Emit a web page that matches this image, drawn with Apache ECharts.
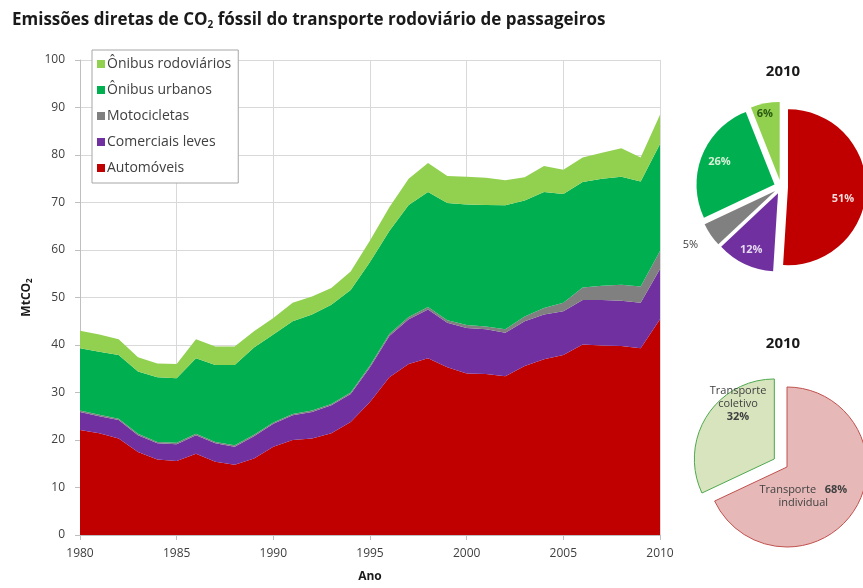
<!DOCTYPE html>
<html>
<head>
<meta charset="utf-8">
<script src="https://cdn.jsdelivr.net/npm/echarts@6/dist/echarts.min.js"></script>
<style>html,body{margin:0;padding:0;background:#fff}#c{width:863px;height:588px}</style>
</head>
<body>
<div id="c"></div>
<script>
var years = [];
for (var y = 1980; y <= 2010; y++) years.push(String(y));

var automoveis  = [22.1,21.4,20.3,17.5,15.9,15.6,17.1,15.4,14.8,16.1,18.6,20.0,20.3,21.4,23.8,28.0,33.2,36.0,37.2,35.3,34.0,33.9,33.4,35.6,37.0,37.9,40.1,39.9,39.8,39.3,45.4];
var comerciais  = [3.8,3.6,3.9,3.5,3.4,3.5,3.9,3.9,3.8,4.7,4.8,5.2,5.6,5.9,5.9,7.3,8.7,9.4,10.3,9.4,9.6,9.4,9.2,9.4,9.4,9.2,9.4,9.6,9.5,9.6,10.6];
var motocicletas= [0.3,0.3,0.3,0.3,0.3,0.3,0.3,0.3,0.3,0.3,0.3,0.3,0.3,0.3,0.3,0.4,0.4,0.5,0.5,0.5,0.6,0.6,0.7,1.0,1.4,1.8,2.6,3.0,3.4,3.4,3.8];
var onibusUrb   = [13.1,13.3,13.4,13.1,13.6,13.6,15.9,16.2,16.9,18.4,18.5,19.5,20.2,20.9,21.6,21.8,21.7,23.6,24.2,24.7,25.4,25.6,26.1,24.4,24.4,22.9,22.2,22.5,22.7,22.1,22.5];
var onibusRod   = [3.7,3.6,3.3,3.0,2.9,3.0,4.0,3.9,3.9,3.4,3.5,3.9,3.8,3.5,3.9,4.5,5.0,5.5,6.1,5.7,5.8,5.7,5.3,4.9,5.5,5.1,5.2,5.5,6.0,5.1,6.2];

var seriesNames = ['Automóveis','Comerciais leves','Motocicletas','Ônibus urbanos','Ônibus rodoviários'];
var seriesColors = ['#c00000','#7030a0','#808080','#00b050','#92d050'];
var seriesData = [automoveis, comerciais, motocicletas, onibusUrb, onibusRod];

var pie1Names = ['Automóveis','Comerciais leves','Motocicletas','Ônibus urbanos','Ônibus rodoviários'];
var pie1Values = [51, 12, 5, 26, 6];
var pie2Names = ['Transporte individual','Transporte coletivo'];
var pie2Values = [68, 32];

var FONT = 'Open Sans';

var areaSeries = seriesData.map(function (d, i) {
  return {
    name: seriesNames[i], type: 'line', stack: 'total', data: d,
    showSymbol: false, symbol: 'none',
    lineStyle: { width: 0 },
    areaStyle: { color: seriesColors[i], opacity: 1 },
    itemStyle: { color: seriesColors[i] },
    emphasis: { disabled: true }, z: 2
  };
});

var pie1LabelShift = [[13,10],[-9,19],[-50,30],[-16,-7],[-7,-25]];
var pie1LabelColors = ['#f2dcdb','#e6d9f0','#404040','#d8f0d8','#2a5a10'];
var pie1Data = pie1Values.map(function (v, i) {
  return {
    name: pie1Names[i], value: v, selected: true,
    itemStyle: { color: seriesColors[i] },
    label: { color: pie1LabelColors[i], fontWeight: i === 2 ? 'normal' : 'bold' }
  };
});

var pie2Data = [
  { name: pie2Names[0], value: pie2Values[0], selected: false,
    itemStyle: { color: '#e6b9b8', borderColor: '#c0504d', borderWidth: 1 } },
  { name: pie2Names[1], value: pie2Values[1], selected: true,
    itemStyle: { color: '#d7e4bd', borderColor: '#4ea84e', borderWidth: 1 } }
];
var pie2LabelShift = [[-20,6],[0,-32]];

var chart = echarts.init(document.getElementById('c'), null, { renderer: 'canvas' });
chart.setOption({
  animation: false,
  textStyle: { fontFamily: FONT },
  title: [
    { text: 'Emissões diretas de CO{s|2} fóssil do transporte rodoviário de passageiros',
      left: 7, top: 6,
      textStyle: { fontFamily: FONT, fontSize: 17, fontWeight: 'bold', color: '#1a1a1a',
        rich: { s: { fontFamily: FONT, fontSize: 10, fontWeight: 'bold', color: '#1a1a1a', verticalAlign: 'bottom', padding: [9,0,0,0] } } } },
    { text: '2010', left: 778, top: 59, textAlign: 'center',
      textStyle: { fontFamily: FONT, fontSize: 15, fontWeight: 'bold', color: '#1a1a1a' } },
    { text: '2010', left: 778, top: 331, textAlign: 'center',
      textStyle: { fontFamily: FONT, fontSize: 15, fontWeight: 'bold', color: '#1a1a1a' } }
  ],
  legend: {
    data: ['Ônibus rodoviários','Ônibus urbanos','Motocicletas','Comerciais leves','Automóveis'],
    orient: 'vertical', left: 92, top: 50,
    backgroundColor: '#fff', borderColor: '#a6a6a6', borderWidth: 1,
    padding: [7, 7, 8, 5], itemGap: 12, itemWidth: 8, itemHeight: 8, icon: 'rect',
    textStyle: { fontFamily: FONT, fontSize: 14, color: '#404040', padding: [0,0,0,-3] },
    selectedMode: false, z: 10
  },
  grid: { left: 80, right: 203, top: 60, bottom: 49, containLabel: false, show: false },
  xAxis: {
    type: 'category', data: years, boundaryGap: false,
    name: 'Ano', nameLocation: 'middle', nameGap: 36,
    nameTextStyle: { fontFamily: FONT, fontSize: 12, fontWeight: 'bold', color: '#1a1a1a' },
    axisLine: { show: true, lineStyle: { color: '#bfbfbf' } },
    axisTick: { show: true, interval: 4, length: 5, lineStyle: { color: '#bfbfbf' } },
    axisLabel: { interval: 4, fontFamily: FONT, fontSize: 12, color: '#404040', margin: 13 },
    splitLine: { show: true, interval: 4, lineStyle: { color: '#d9d9d9' } }
  },
  yAxis: {
    type: 'value', min: 0, max: 100, interval: 10,
    name: 'MtCO{s|2}', nameLocation: 'middle', nameGap: 43, nameRotate: 90,
    nameTextStyle: { fontFamily: FONT, fontSize: 12, fontWeight: 'bold', color: '#1a1a1a',
      rich: { s: { fontFamily: FONT, fontSize: 8, fontWeight: 'bold', color: '#1a1a1a', verticalAlign: 'bottom', padding: [6,0,0,0] } } },
    axisLine: { show: true, lineStyle: { color: '#bfbfbf' } },
    axisTick: { show: true, length: 5, lineStyle: { color: '#bfbfbf' } },
    axisLabel: { fontFamily: FONT, fontSize: 12, color: '#404040', margin: 15 },
    splitLine: { show: true, lineStyle: { color: '#d9d9d9' } }
  },
  series: areaSeries.concat([
    {
      type: 'pie', name: 'pie2010a', center: [781, 187], radius: 78,
      selectedMode: 'multiple', selectedOffset: 7, startAngle: 90, clockwise: true,
      avoidLabelOverlap: false, silent: true,
      label: { show: true, position: 'inside', formatter: '{c}%', fontFamily: FONT, fontSize: 11 },
      labelLine: { show: false },
      labelLayout: function (p) { var s = pie1LabelShift[p.dataIndex]; return { dx: s[0], dy: s[1] }; },
      data: pie1Data
    },
    {
      type: 'pie', name: 'pie2010b', center: [787, 467], radius: 80,
      selectedMode: 'multiple', selectedOffset: 15, startAngle: 90, clockwise: true,
      avoidLabelOverlap: false, silent: true,
      label: { show: true, position: 'inside', fontFamily: FONT, fontSize: 11, color: '#404040',
        formatter: function (p) {
          var w = p.name.split(' ');
          if (p.dataIndex === 0) return '{n|' + w[0] + '}   {b|' + p.value + '%}\n{n|' + w[1] + '}';
          return '{n|' + w[0] + '}\n{n|' + w[1] + '}\n{b|' + p.value + '%}';
        },
        rich: { n: { fontFamily: FONT, fontSize: 11, color: '#404040', lineHeight: 13 },
                b: { fontFamily: FONT, fontSize: 11, color: '#404040', fontWeight: 'bold', lineHeight: 13 } } },
      labelLine: { show: false },
      labelLayout: function (p) { var s = pie2LabelShift[p.dataIndex]; return { dx: s[0], dy: s[1] }; },
      data: pie2Data
    }
  ])
});
</script>
</body>
</html>
